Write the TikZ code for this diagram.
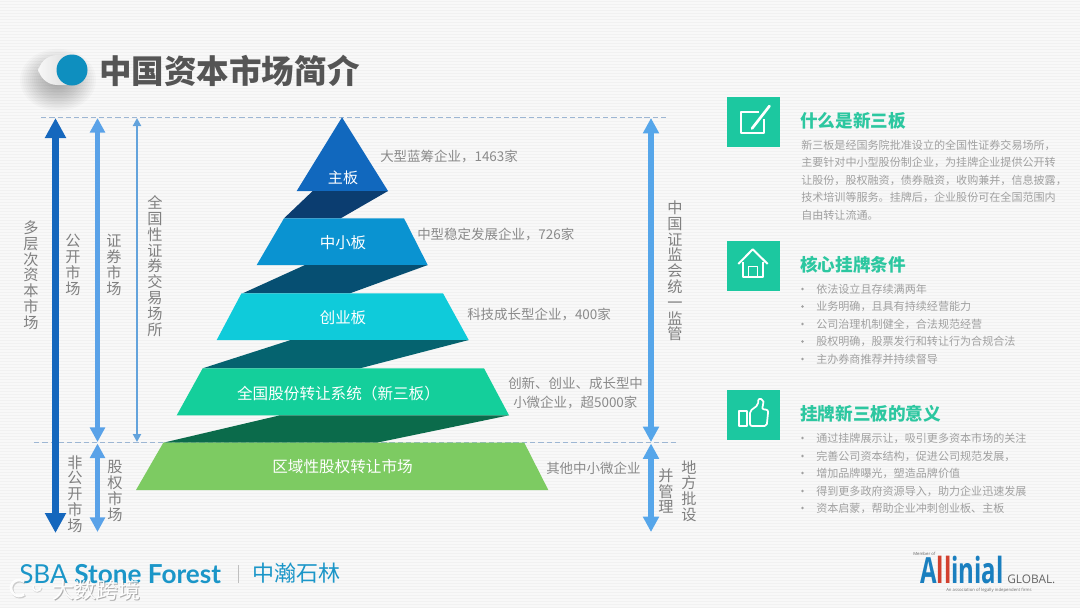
\documentclass[tikz,border=0pt]{standalone}
\usepackage{fontspec}
\usepackage{graphicx}
\setmainfont{Noto Sans CJK SC}
\newfontfamily\logofont{Open Sans}
\newfontfamily\sbafont{Lato}
\usetikzlibrary{arrows.meta,shapes.geometric}
\definecolor{bgc}{HTML}{F8F8F8}
\definecolor{stripec}{HTML}{F1F1F1}
\definecolor{txt}{HTML}{8A8A8A}
\definecolor{bodyc}{HTML}{A0A0A0}
\definecolor{vlabc}{HTML}{808080}
\definecolor{tealc}{HTML}{1CC8A0}
\definecolor{headc}{HTML}{2CC7A0}
\definecolor{dashc}{HTML}{9DB6D3}
\definecolor{ardark}{HTML}{1567BD}
\definecolor{armid}{HTML}{5AA2E8}
\definecolor{arthin}{HTML}{63A3DC}
\definecolor{arright}{HTML}{56A6EA}
\definecolor{logoc}{HTML}{1B96C8}
\definecolor{dotc}{HTML}{0E8FBF}
\definecolor{titlec}{HTML}{555555}
\definecolor{allblue}{HTML}{1A7FBF}
\definecolor{allred}{HTML}{D2402F}
\definecolor{tA}{HTML}{1168BE}
\definecolor{bA}{HTML}{0B3D70}
\definecolor{tB}{HTML}{0A93D1}
\definecolor{bB}{HTML}{064F72}
\definecolor{tC}{HTML}{0FCBDA}
\definecolor{bC}{HTML}{05636F}
\definecolor{tD}{HTML}{14CF9B}
\definecolor{bD}{HTML}{0B6B4B}
\definecolor{tE}{HTML}{7DCB62}
\newcommand{\vfontA}{\fontsize{11.4}{11.85}\selectfont\lineskiplimit=-20pt }
\tikzset{
  x=0.75pt,y=-0.75pt,
  lab/.style={text=txt,font=\fontsize{10.1}{12}\selectfont,inner sep=0pt,anchor=west,yshift=-0.1pt},
  tlab/.style={text=white,inner sep=0pt,font=\fontsize{#1}{13}\selectfont,yshift=-0.75pt},
  vlab/.style={text=vlabc,inner sep=0pt,align=center,font=\vfontA},
  head/.style={text=headc,font=\fontsize{13.2}{16}\selectfont\bfseries,inner sep=0pt,anchor=west,yshift=-0.75pt},
  bodyt/.style={text=bodyc,font=\fontsize{8.3}{10}\selectfont,inner sep=0pt,anchor=west},
  bul/.style={fill=bodyc,draw=none,circle,inner sep=0pt,minimum size=2pt},
  iconbox/.style={fill=tealc,draw=none},
  icon/.style={draw=white,line width=1.5pt,fill=none,line join=round},
  dashl/.style={draw=dashc,line width=0.7pt,dash pattern=on 4pt off 2.2pt},
  bigarrow/.style={draw=ardark,line width=5pt,{Triangle[width=15pt,length=15pt]}-{Triangle[width=15pt,length=15pt]}},
  midarrow/.style={draw=armid,line width=3.6pt,{Triangle[width=11pt,length=11pt]}-{Triangle[width=11pt,length=11pt]}},
  thinarrow/.style={draw=arthin,line width=1.9pt,{Triangle[width=6pt,length=6pt]}-{Triangle[width=6pt,length=6pt]}},
  rarrow/.style={draw=arright,line width=3.8pt,{Triangle[width=11.5pt,length=11.5pt]}-{Triangle[width=11.5pt,length=11.5pt]}},
}
\begin{document}
\begin{tikzpicture}
\useasboundingbox (0,0) rectangle (1080,608);
\fill[bgc] (0,0) rectangle (1080,608);
\foreach \yy in {1,4,...,607} {\draw[stripec,line width=0.6pt] (0,\yy) -- (1080,\yy);}

% title shadow and dot
\foreach \rr in {4,6,...,38} {\fill[black,opacity=.018] (58,80) ellipse [x radius=\rr,y radius=\rr*0.82];}
\shade[left color=white!97!black,right color=black!18,draw=none,rounded corners=14.5pt] (38,55) rectangle (86,85);
\fill[dotc] (72,70) circle [radius=15.5];
\node[text=titlec,inner sep=0pt,anchor=west,font=\fontsize{24.4}{28}\selectfont\bfseries] (title) at (99,70.5) {中国资本市场简介};

% dashed guide lines
\coordinate (dta) at (41,117.3);
\coordinate (dtb) at (668,117.3);
\coordinate (dba) at (34,442.7);
\coordinate (dbb) at (678,442.7);
\draw[dashl] (dta) -- (dtb);
\draw[dashl] (dba) -- (dbb);

% arrows
\coordinate (a1t) at (55.5,118);
\coordinate (a1b) at (55.5,533);
\coordinate (a2t) at (97.5,118);
\coordinate (a2m) at (97.5,442);
\coordinate (a2n) at (97.5,443.5);
\coordinate (a2b) at (97.5,532);
\coordinate (a3t) at (137,118);
\coordinate (a3b) at (137,442);
\coordinate (a4t) at (651,118);
\coordinate (a4m) at (651,442);
\coordinate (a4n) at (651,443.5);
\coordinate (a4b) at (651,532);
\draw[bigarrow] (a1t) -- (a1b);
\draw[midarrow] (a2t) -- (a2m);
\draw[midarrow] (a2n) -- (a2b);
\draw[thinarrow] (a3t) -- (a3b);
\draw[rarrow] (a4t) -- (a4m);
\draw[rarrow] (a4n) -- (a4b);

% vertical labels
\node[vlab] (v1) at (31,275) {多\\层\\次\\资\\本\\市\\场};
\node[vlab] (v2) at (73,265) {公\\开\\市\\场};
\node[vlab] (v3) at (114,265) {证\\券\\市\\场};
\node[vlab] (v4) at (155,266) {全\\国\\性\\证\\券\\交\\易\\场\\所};
\node[vlab] (v5) at (75,494) {非\\公\\开\\市\\场};
\node[vlab] (v6) at (115,491) {股\\权\\市\\场};
\node[vlab] (v7) at (675,271) {中\\国\\证\\监\\会\\统\\一\\监\\管};
\node[vlab] (v8) at (666,491) {并\\管\\理};
\node[vlab] (v9) at (689,491) {地\\方\\批\\设};

% pyramid
\fill[tA] (342,117.3) -- (388,191) -- (296.7,191) -- cycle;
\fill[bA] (312.7,191) -- (388,191) -- (340.7,218.3) -- (284,218.3) -- cycle;
\fill[tB] (284,218.3) -- (404,218.3) -- (427.7,265) -- (256.7,265) -- cycle;
\fill[bB] (305,265) -- (427.7,265) -- (350,293.3) -- (242.7,293.3) -- cycle;
\fill[tC] (241.5,293.3) -- (443,293.3) -- (468.7,340) -- (216.7,340) -- cycle;
\fill[bC] (290.7,340) -- (468.7,340) -- (360,368.3) -- (202.7,368.3) -- cycle;
\fill[tD] (202.7,368.3) -- (484,368.3) -- (509,415.3) -- (176.7,415.3) -- cycle;
\fill[bD] (280,415.3) -- (509,415.3) -- (376.7,442.7) -- (163.3,442.7) -- cycle;
\fill[tE] (163.3,442.7) -- (524.3,442.7) -- (548.3,490) -- (136,490) -- cycle;
\node[tlab=11.3] (p1) at (343,177) {主板};
\node[tlab=11.6] (p2) at (343,242) {中小板};
\node[tlab=11.6] (p3) at (343,317) {创业板};
\node[tlab=11.7] (p4) at (338.5,393) {全国股份转让系统（新三板）};
\node[tlab=11.7] (p5) at (342.5,466) {区域性股权转让市场};

% tier descriptions
\node[lab] (d1) at (380,156) {大型蓝筹企业，1463家};
\node[lab] (d2) at (417,234) {中型稳定发展企业，726家};
\node[lab] (d3) at (467,314) {科技成长型企业，400家};
\node[lab] (d4) at (508,383) {创新、创业、成长型中};
\node[lab] (d5) at (513,402) {小微企业，超5000家};
\node[lab] (d6) at (546,468) {其他中小微企业};

% right panel: section one
\fill[iconbox] (726.7,97) rectangle (780,147);
\draw[icon] (759,112) -- (741,112) -- (741,133) -- (763.5,133) -- (763.5,119);
\draw[icon,line width=2pt,line cap=round] (752,128.5) -- (769.5,106);
\node[head] (h1) at (800,120) {什么是新三板};
\node[bodyt] (b11) at (801,145) {新三板是经国务院批准设立的全国性证券交易场所，};
\node[bodyt] (b12) at (801,162.5) {主要针对中小型股份制企业，为挂牌企业提供公开转};
\node[bodyt] (b13) at (801,180) {让股份，股权融资，债券融资，收购兼并，信息披露，};
\node[bodyt] (b14) at (801,197.5) {技术培训等服务。挂牌后，企业股份可在全国范围内};
\node[bodyt] (b15) at (801,215) {自由转让流通。};

% section two
\fill[iconbox] (726.7,241) rectangle (780,291);
\draw[icon] (738.3,264) -- (752.7,249.3) -- (767.7,264);
\draw[icon] (742.7,262) -- (742.7,277.3) -- (763.3,277.3) -- (763.3,262);
\draw[icon,line width=1.2pt] (748.5,277.3) -- (748.5,266.5) -- (757.3,266.5) -- (757.3,277.3);
\node[head] (h2) at (800,264) {核心挂牌条件};
\foreach \n/\yy/\tx in {1/289/依法设立且存续满两年,2/306.5/业务明确，且具有持续经营能力,3/324/公司治理机制健全，合法规范经营,4/341.5/股权明确，股票发行和转让行为合规合法,5/359/主办券商推荐并持续督导}{
  \node[bul] (bl2\n) at (802.5,\yy) {};
  \node[bodyt] (t2\n) at (816,\yy) {\tx};
}

% section three
\fill[iconbox] (726.7,390) rectangle (780,440);
\draw[icon,line width=1.3pt] (739,411) rectangle (747.3,426);
\draw[icon,line width=1.3pt,rounded corners=1.5pt] (750,411) -- (758,405) -- (758.3,398.5) -- (763.3,399.5) -- (763.5,404) -- (761.7,409) -- (768.3,410) -- (766.7,426) -- (750,426) -- cycle;
\node[head] (h3) at (800,413) {挂牌新三板的意义};
\foreach \n/\yy/\tx in {1/438/通过挂牌展示让，吸引更多资本市场的关注,2/456/完善公司资本结构，促进公司规范发展，,3/473/增加品牌曝光，塑造品牌价值,4/491/得到更多政府资源导入，助力企业迅速发展,5/508/资本启蒙，帮助企业冲刺创业板、主板}{
  \node[bul] (bl3\n) at (802.5,\yy) {};
  \node[bodyt] (t3\n) at (816,\yy) {\tx};
}

% SBA logo
\node[text=logoc,inner sep=0pt,anchor=west,font=\sbafont\fontsize{19.6}{24}\selectfont] (sba) at (19,574) {SBA \textbf{Stone Forest}};
\coordinate (sa) at (238,565);
\coordinate (sb) at (238,583);
\draw[black!25,line width=0.6pt] (sa) -- (sb);
\node[text=logoc,inner sep=0pt,anchor=west,font=\fontsize{16.5}{20}\selectfont] (zh) at (252,573) {中瀚石林};

% watermark
\draw[black!40,line width=2.2pt,opacity=.45] (20,589) ++(50:8) arc[start angle=50,end angle=310,radius=8];
\draw[white,line width=2pt,opacity=.95] (19,588) ++(50:8) arc[start angle=50,end angle=310,radius=8];
\draw[black!40,line width=1.4pt,opacity=.4] (37.7,587.7) ++(0:4) arc[start angle=0,end angle=200,radius=4];
\draw[white,line width=1.2pt,opacity=.95] (37,587) ++(0:4) arc[start angle=0,end angle=200,radius=4];
\node[text=black!55,inner sep=0pt,anchor=west,font=\fontsize{16.5}{20}\selectfont,opacity=.55] (wmb) at (52.8,590.8) {大数跨境};
\node[text=white,inner sep=0pt,anchor=west,font=\fontsize{16.5}{20}\selectfont,opacity=.95] (wm) at (52,590) {大数跨境};

% Allinial logo
\node[inner sep=0pt,anchor=south west,font=\logofont\bfseries\fontsize{18}{22}\selectfont] (all) at (920,584) {\scalebox{1}[1.5]{\textcolor{allblue}{A}\textcolor{allred}{ll}\textcolor{allblue}{inial}}};
\node[text=black!60,inner sep=0pt,anchor=west,font=\logofont\fontsize{8.9}{10}\selectfont] (glob) at (1007,579) {GLOBAL.};
\node[text=black!60,inner sep=0pt,anchor=west,font=\logofont\fontsize{3.2}{4}\selectfont] (mem) at (913,554) {Member of};
\node[text=black!55,inner sep=0pt,anchor=west,font=\logofont\fontsize{3.2}{4}\selectfont] (asso) at (946,590) {An association of legally independent firms};
\end{tikzpicture}
\end{document}
